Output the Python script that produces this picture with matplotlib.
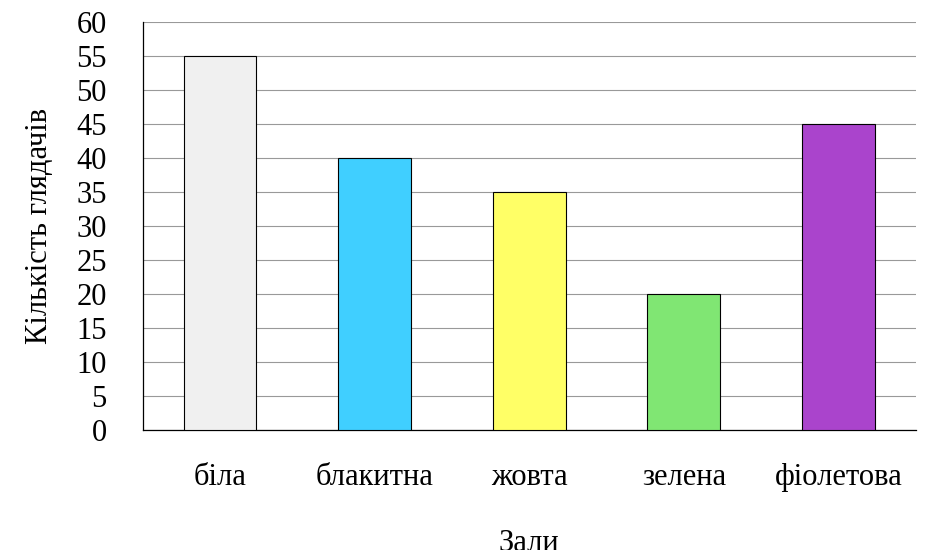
import matplotlib
matplotlib.use("Agg")
import matplotlib.pyplot as plt

categories = ["біла", "блакитна", "жовта", "зелена", "фіолетова"]
values = [55, 40, 35, 20, 45]
colors = ["#f0f0f0", "#40cfff", "#ffff66", "#80e673", "#aa44cc"]
yticks = list(range(0, 61, 5))

plt.rcParams['font.family'] = ['Liberation Serif', 'DejaVu Serif']
fig = plt.figure(figsize=(9.4, 5.5), dpi=100)
ax = fig.add_axes([0.152, 0.218, 0.822, 0.742])
x = range(len(categories))
ax.bar(x, values, width=0.47, color=colors, edgecolor="black", linewidth=0.8, zorder=3)
ax.set_xlim(-0.5, 4.5)
ax.set_ylim(0, 60)
ax.set_yticks(yticks)
ax.set_xticks(list(x))
ax.set_xticklabels(categories, fontsize=22)
ax.tick_params(axis='y', labelsize=22, length=0, pad=26)
ax.tick_params(axis='x', length=0, pad=24)
ax.grid(axis='y', color="#999999", linewidth=0.8, zorder=0)
for s in ["top", "right"]:
    ax.spines[s].set_visible(False)
ax.spines["left"].set_linewidth(0.9)
ax.spines["bottom"].set_linewidth(0.9)
ax.set_ylabel("Кількість глядачів", fontsize=22, labelpad=16)
ax.set_xlabel("Зали", fontsize=22, labelpad=26)
fig.savefig("out.png", dpi=100)
